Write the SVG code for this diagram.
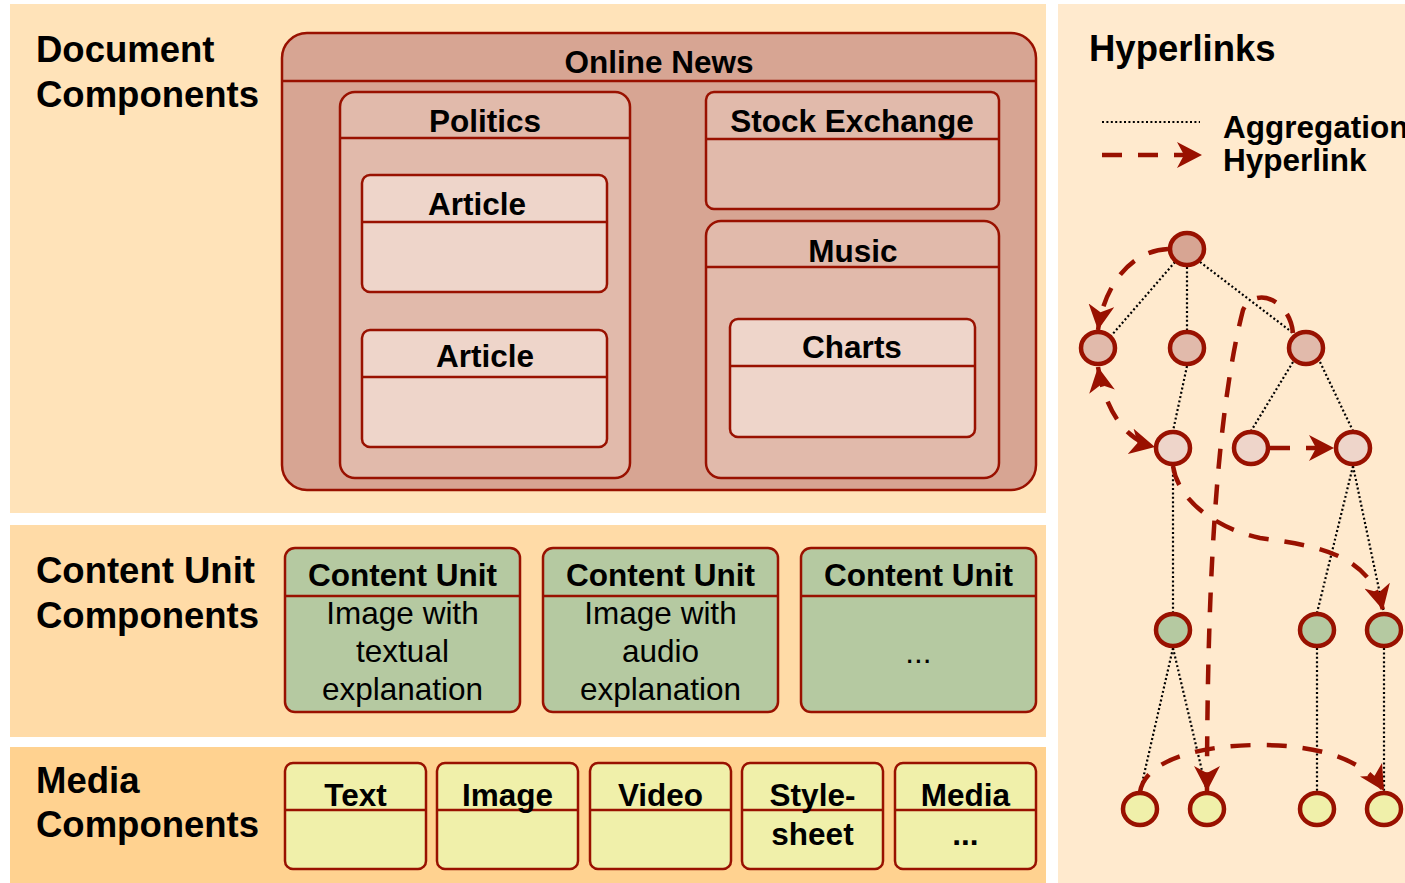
<svg xmlns="http://www.w3.org/2000/svg" width="1405" height="883" viewBox="0 0 1405 883">
  <defs>
    <style>
      .lbl { font-family: "Liberation Sans", Arial, sans-serif; fill: #000; }
      .title { font-size: 36.5px; font-weight: bold; }
      .head { font-size: 31.5px; font-weight: bold; text-anchor: middle; }
      .body { font-size: 31.5px; text-anchor: middle; }
      .legend { font-size: 31.5px; font-weight: bold; }
      .box { stroke: #991100; stroke-width: 2.5; }
      .sep { stroke: #991100; stroke-width: 2.5; fill: none; }
      .news { fill: #D7A593; }
      .section { fill: #E1BAAB; }
      .item { fill: #EED5CA; }
      .unit { fill: #B5C9A1; }
      .media { fill: #F0F0AA; }
      .agg { stroke: #000; stroke-width: 2.2; stroke-dasharray: 2 2.4; fill: none; }
      .link { stroke: #991100; stroke-width: 4.5; stroke-dasharray: 20 16; fill: none; }
      .node { stroke: #991100; stroke-width: 4.5; }
    </style>
    <marker id="arrow" markerUnits="userSpaceOnUse" markerWidth="26" markerHeight="26" viewBox="0 0 26 26" refX="25" refY="13" orient="auto-start-reverse">
      <path d="M25,13 L0,0 L7,13 L0,26 Z" fill="#991100"/>
    </marker>
  </defs>

  <rect width="1405" height="883" fill="#FFFFFF"/>

  <!-- background bands -->
  <g id="bands">
    <rect x="10" y="4" width="1036" height="509" fill="#FFE3B9"/>
    <rect x="10" y="525" width="1036" height="212" fill="#FFDBA7"/>
    <rect x="10" y="747" width="1036" height="136" fill="#FFD290"/>
    <rect x="1058" y="4" width="347" height="879" fill="#FFEACE"/>
  </g>

  <!-- band titles -->
  <g id="titles" class="lbl title">
    <text x="36" y="62">Document</text>
    <text x="36" y="107">Components</text>
    <text x="36" y="583">Content Unit</text>
    <text x="36" y="628">Components</text>
    <text x="36" y="793">Media</text>
    <text x="36" y="837">Components</text>
    <text x="1089" y="61">Hyperlinks</text>
  </g>

  <!-- document components -->
  <g id="online-news">
    <rect class="box news" x="282" y="33" width="754" height="457" rx="25"/>
    <line class="sep" x1="282" y1="81" x2="1036" y2="81"/>
    <text class="lbl head" x="659" y="73">Online News</text>
  </g>
  <g id="politics">
    <rect class="box section" x="340" y="92" width="290" height="386" rx="15"/>
    <line class="sep" x1="340" y1="138" x2="630" y2="138"/>
    <text class="lbl head" x="485" y="132">Politics</text>
  </g>
  <g id="article-1">
    <rect class="box item" x="362" y="175" width="245" height="117" rx="8"/>
    <line class="sep" x1="362" y1="222" x2="607" y2="222"/>
    <text class="lbl head" x="477" y="215">Article</text>
  </g>
  <g id="article-2">
    <rect class="box item" x="362" y="330" width="245" height="117" rx="8"/>
    <line class="sep" x1="362" y1="377" x2="607" y2="377"/>
    <text class="lbl head" x="485" y="367">Article</text>
  </g>
  <g id="stock-exchange">
    <rect class="box section" x="706" y="92" width="293" height="117" rx="8"/>
    <line class="sep" x1="706" y1="139" x2="999" y2="139"/>
    <text class="lbl head" x="852" y="132">Stock Exchange</text>
  </g>
  <g id="music">
    <rect class="box section" x="706" y="221" width="293" height="257" rx="15"/>
    <line class="sep" x1="706" y1="267" x2="999" y2="267"/>
    <text class="lbl head" x="853" y="262">Music</text>
  </g>
  <g id="charts">
    <rect class="box item" x="730" y="319" width="245" height="118" rx="8"/>
    <line class="sep" x1="730" y1="366" x2="975" y2="366"/>
    <text class="lbl head" x="852" y="358">Charts</text>
  </g>

  <!-- content units -->
  <g id="unit-text-image">
    <rect class="box unit" x="285" y="548" width="235" height="164" rx="10"/>
    <line class="sep" x1="285" y1="596" x2="520" y2="596"/>
    <text class="lbl head" x="402.5" y="586">Content Unit</text>
    <text class="lbl body" x="402.5" y="624">Image with</text>
    <text class="lbl body" x="402.5" y="662">textual</text>
    <text class="lbl body" x="402.5" y="700">explanation</text>
  </g>
  <g id="unit-audio-image">
    <rect class="box unit" x="543" y="548" width="235" height="164" rx="10"/>
    <line class="sep" x1="543" y1="596" x2="778" y2="596"/>
    <text class="lbl head" x="660.5" y="586">Content Unit</text>
    <text class="lbl body" x="660.5" y="624">Image with</text>
    <text class="lbl body" x="660.5" y="662">audio</text>
    <text class="lbl body" x="660.5" y="700">explanation</text>
  </g>
  <g id="unit-more">
    <rect class="box unit" x="801" y="548" width="235" height="164" rx="10"/>
    <line class="sep" x1="801" y1="596" x2="1036" y2="596"/>
    <text class="lbl head" x="918.5" y="586">Content Unit</text>
    <text class="lbl body" x="918.5" y="663">...</text>
  </g>

  <!-- media -->
  <g id="media-text">
    <rect class="box media" x="285" y="763" width="141" height="106" rx="8"/>
    <line class="sep" x1="285" y1="810" x2="426" y2="810"/>
    <text class="lbl head" x="355.5" y="806">Text</text>
  </g>
  <g id="media-image">
    <rect class="box media" x="437" y="763" width="141" height="106" rx="8"/>
    <line class="sep" x1="437" y1="810" x2="578" y2="810"/>
    <text class="lbl head" x="507.5" y="806">Image</text>
  </g>
  <g id="media-video">
    <rect class="box media" x="590" y="763" width="141" height="106" rx="8"/>
    <line class="sep" x1="590" y1="810" x2="731" y2="810"/>
    <text class="lbl head" x="660.5" y="806">Video</text>
  </g>
  <g id="media-stylesheet">
    <rect class="box media" x="742" y="763" width="141" height="106" rx="8"/>
    <line class="sep" x1="742" y1="810" x2="883" y2="810"/>
    <text class="lbl head" x="812.5" y="806">Style-</text>
    <text class="lbl head" x="812.5" y="845">sheet</text>
  </g>
  <g id="media-more">
    <rect class="box media" x="895" y="763" width="141" height="106" rx="8"/>
    <line class="sep" x1="895" y1="810" x2="1036" y2="810"/>
    <text class="lbl head" x="965.5" y="806">Media</text>
    <text class="lbl head" x="965.5" y="845">...</text>
  </g>

  <!-- legend -->
  <g id="legend">
    <line class="agg" x1="1102" y1="122" x2="1200" y2="122"/>
    <path class="link" d="M1102,155 L1202,155" marker-end="url(#arrow)"/>
    <text class="lbl legend" x="1223" y="138">Aggregation</text>
    <text class="lbl legend" x="1223" y="171">Hyperlink</text>
  </g>

  <!-- connectors: aggregation (dotted) and hyperlinks (dashed) -->
  <g id="connectors">
    <line class="agg" x1="1175" y1="262" x2="1111" y2="336"/>
    <line class="agg" x1="1187" y1="267" x2="1187" y2="331"/>
    <line class="agg" x1="1200" y1="262" x2="1293" y2="333"/>
    <line class="agg" x1="1187" y1="366" x2="1173" y2="431"/>
    <line class="agg" x1="1293" y1="362" x2="1251" y2="431"/>
    <line class="agg" x1="1320" y1="362" x2="1353" y2="431"/>
    <line class="agg" x1="1173" y1="466" x2="1173" y2="613"/>
    <line class="agg" x1="1353" y1="466" x2="1317" y2="613"/>
    <line class="agg" x1="1353" y1="466" x2="1384" y2="613"/>
    <line class="agg" x1="1173" y1="648" x2="1140" y2="792"/>
    <line class="agg" x1="1173" y1="648" x2="1207" y2="792"/>
    <line class="agg" x1="1317" y1="648" x2="1317" y2="792"/>
    <line class="agg" x1="1384" y1="648" x2="1384" y2="792"/>

    <path class="link" d="M1168,249 C1135,250 1105,280 1098,330" marker-end="url(#arrow)"/>
    <path class="link" d="M1098,367 C1105,410 1125,440 1155,447" marker-start="url(#arrow)" marker-end="url(#arrow)"/>
    <path class="link" d="M1270,448 L1334,448" marker-end="url(#arrow)"/>
    <path class="link" d="M1173,466 C1178,500 1215,528 1260,538 C1320,546 1370,555 1383,610" marker-end="url(#arrow)"/>
    <path class="link" d="M1293,333 C1290,300 1255,285 1243,310 C1220,400 1207,550 1207,791" marker-end="url(#arrow)"/>
    <path class="link" d="M1140,792 C1145,760 1200,745 1260,745 C1320,745 1365,760 1384,791" marker-end="url(#arrow)"/>
  </g>

  <!-- hyperlink graph nodes -->
  <g id="n-root"><ellipse class="node news" cx="1187" cy="249" rx="17" ry="16"/></g>
  <g id="n-a"><ellipse class="node section" cx="1098" cy="348" rx="17" ry="16"/></g>
  <g id="n-b"><ellipse class="node section" cx="1187" cy="348" rx="17" ry="16"/></g>
  <g id="n-c"><ellipse class="node section" cx="1306" cy="348" rx="17" ry="16"/></g>
  <g id="n-b1"><ellipse class="node item" cx="1173" cy="448" rx="17" ry="16"/></g>
  <g id="n-c1"><ellipse class="node item" cx="1251" cy="448" rx="17" ry="16"/></g>
  <g id="n-c2"><ellipse class="node item" cx="1353" cy="448" rx="17" ry="16"/></g>
  <g id="n-u1"><ellipse class="node unit" cx="1173" cy="630" rx="17" ry="16"/></g>
  <g id="n-u2"><ellipse class="node unit" cx="1317" cy="630" rx="17" ry="16"/></g>
  <g id="n-u3"><ellipse class="node unit" cx="1384" cy="630" rx="17" ry="16"/></g>
  <g id="n-m1"><ellipse class="node media" cx="1140" cy="809" rx="17" ry="16"/></g>
  <g id="n-m2"><ellipse class="node media" cx="1207" cy="809" rx="17" ry="16"/></g>
  <g id="n-m3"><ellipse class="node media" cx="1317" cy="809" rx="17" ry="16"/></g>
  <g id="n-m4"><ellipse class="node media" cx="1384" cy="809" rx="17" ry="16"/></g>
</svg>
